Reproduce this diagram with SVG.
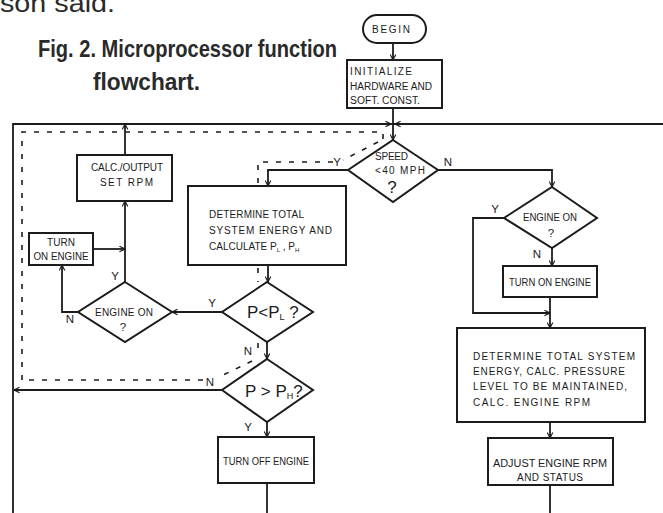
<svg xmlns="http://www.w3.org/2000/svg" width="663" height="513" viewBox="0 0 663 513">
  <style>
    .ln { fill: none; stroke: #1c1c1c; stroke-width: 1.8; }
    .bx { fill: #fff; stroke: #1c1c1c; stroke-width: 2; }
    .dash { fill: none; stroke: #1c1c1c; stroke-width: 1.6; stroke-dasharray: 5 8; }
    .hand { font-family: "Liberation Sans", "DejaVu Sans", sans-serif; font-size: 10px; fill: #1c1c1c; }
    .lab { font-family: "Liberation Sans", "DejaVu Sans", sans-serif; font-size: 11.5px; fill: #1c1c1c; }
    .big { font-family: "Liberation Sans", "DejaVu Sans", sans-serif; font-size: 17px; fill: #1c1c1c; }
    .title { font-family: "Liberation Sans", Arial, sans-serif; font-weight: bold; font-size: 24px; fill: #2a2a2a; }
    .c { text-anchor: middle; }
  </style>
  <defs>
    <marker id="arr" viewBox="0 0 10 10" refX="9" refY="5" markerWidth="7" markerHeight="7" orient="auto" markerUnits="userSpaceOnUse">
      <path d="M1,1 L9,5 L1,9" fill="none" stroke="#1c1c1c" stroke-width="1.6"/>
    </marker>
  </defs>
  <rect width="663" height="513" fill="#fff"/>

  <!-- running text and caption -->
  <text x="0" y="12" font-family="Liberation Sans, Arial, sans-serif" font-size="26" fill="#2a2a2a" textLength="115" lengthAdjust="spacingAndGlyphs">son said.</text>
  <text class="title" x="38" y="57" textLength="299" lengthAdjust="spacingAndGlyphs">Fig. 2. Microprocessor function</text>
  <text class="title" x="93" y="90" textLength="107" lengthAdjust="spacingAndGlyphs">flowchart.</text>

  <!-- connectors -->
  <g id="connectors">
    <path class="ln" d="M13,513 V124 H663"/>
    <path class="ln" d="M13,124 H391" marker-end="url(#arr)"/>
    <path class="ln" d="M663,124 H395" marker-end="url(#arr)"/>
    <path class="ln" d="M393,43 V60" marker-end="url(#arr)"/>
    <path class="ln" d="M393,108 V140" marker-end="url(#arr)"/>
    <path class="ln" d="M348,170 H268 V186" marker-end="url(#arr)"/>
    <path class="ln" d="M438,170 H552 V187" marker-end="url(#arr)"/>
    <path class="ln" d="M504,218 H473 V313 H550" marker-end="url(#arr)"/>
    <path class="ln" d="M552,248 V266" marker-end="url(#arr)"/>
    <path class="ln" d="M550,297 V328" marker-end="url(#arr)"/>
    <path class="ln" d="M550,422 V438" marker-end="url(#arr)"/>
    <path class="ln" d="M550,485 V513"/>
    <path class="ln" d="M268,265 V282" marker-end="url(#arr)"/>
    <path class="ln" d="M222,312 H172" marker-end="url(#arr)"/>
    <path class="ln" d="M125,282 V201" marker-end="url(#arr)"/>
    <path class="ln" d="M93,249 H125" marker-end="url(#arr)"/>
    <path class="ln" d="M78,312 H62 V265" marker-end="url(#arr)"/>
    <path class="ln" d="M125,155 V124" marker-end="url(#arr)"/>
    <path class="ln" d="M267,342 V359" marker-end="url(#arr)"/>
    <path class="ln" d="M222,390 H14" marker-end="url(#arr)"/>
    <path class="ln" d="M267,422 V437" marker-end="url(#arr)"/>
    <path class="ln" d="M267,483 V513"/>

    <!-- dashed trace of the low-speed loop -->
    <path class="dash" d="M22,380 V132 H383 V140"/>
    <path class="dash" d="M378,142 L343,160"/>
    <path class="dash" d="M333,162 H258 V184"/>
    <path class="dash" d="M258,268 V282"/>
    <path class="dash" d="M258,343 V356"/>
    <path class="dash" d="M252,361 L217,378"/>
    <path class="dash" d="M203,380 H22"/>

    <!-- branch labels -->
    <text class="lab c" x="337" y="166">Y</text>
    <text class="lab c" x="448" y="166">N</text>
    <text class="lab c" x="495" y="213">Y</text>
    <text class="lab c" x="537" y="258">N</text>
    <text class="lab c" x="212" y="307">Y</text>
    <text class="lab c" x="115" y="280">Y</text>
    <text class="lab c" x="70" y="323">N</text>
    <text class="lab c" x="248" y="355">N</text>
    <text class="lab c" x="210" y="386">N</text>
    <text class="lab c" x="248" y="431">Y</text>
  </g>

  <g id="begin">
    <rect class="bx" x="363" y="15" width="63" height="28" rx="14"/>
    <text class="hand" x="372" y="33" textLength="38">BEGIN</text>
  </g>

  <g id="initialize">
    <rect class="bx" x="347" y="60" width="95" height="48"/>
    <text class="hand" x="350" y="75" textLength="62">INITIALIZE</text>
    <text class="hand" x="350" y="90" textLength="82" lengthAdjust="spacingAndGlyphs">HARDWARE AND</text>
    <text class="hand" x="350" y="104" textLength="70" lengthAdjust="spacingAndGlyphs">SOFT. CONST.</text>
  </g>

  <g id="speed">
    <polygon class="bx" points="393,140 438,170 393,202 348,170"/>
    <text class="hand" x="375" y="160" textLength="33">SPEED</text>
    <text class="hand" x="375" y="174" textLength="50">&lt;40 MPH</text>
    <text class="big c" x="392" y="193">?</text>
  </g>

  <g id="engine-on-right">
    <polygon class="bx" points="552,187 597,218 552,248 504,218"/>
    <text class="hand c" x="550" y="221" textLength="54" lengthAdjust="spacingAndGlyphs">ENGINE ON</text>
    <text class="lab c" x="551" y="237">?</text>
  </g>

  <g id="turn-on-right">
    <rect class="bx" x="503" y="266" width="94" height="31"/>
    <text class="hand c" x="550" y="286" textLength="82" lengthAdjust="spacingAndGlyphs">TURN ON ENGINE</text>
  </g>

  <g id="determine-right">
    <rect class="bx" x="457" y="328" width="188" height="94"/>
    <text class="hand" x="473" y="360" textLength="162">DETERMINE TOTAL SYSTEM</text>
    <text class="hand" x="473" y="375" textLength="152">ENERGY, CALC. PRESSURE</text>
    <text class="hand" x="473" y="390" textLength="154">LEVEL TO BE MAINTAINED,</text>
    <text class="hand" x="473" y="406" textLength="117">CALC. ENGINE RPM</text>
  </g>

  <g id="adjust">
    <rect class="bx" x="488" y="438" width="125" height="47"/>
    <text class="hand c" x="550" y="467" textLength="114" lengthAdjust="spacingAndGlyphs">ADJUST ENGINE RPM</text>
    <text class="hand c" x="550" y="481" textLength="66">AND STATUS</text>
  </g>

  <g id="determine-left">
    <rect class="bx" x="188" y="186" width="158" height="79"/>
    <text class="hand" x="209" y="218" textLength="95">DETERMINE  TOTAL</text>
    <text class="hand" x="209" y="234" textLength="123">SYSTEM  ENERGY  AND</text>
    <text class="hand" x="209" y="250">CALCULATE   P<tspan font-size="6" dy="2">L</tspan><tspan dy="-2">  ,  P</tspan><tspan font-size="6" dy="2">H</tspan></text>
  </g>

  <g id="p-low">
    <polygon class="bx" points="267,282 313,312 267,342 222,312"/>
    <text class="big" x="247" y="318">P&lt;P<tspan font-size="9" dy="2">L</tspan><tspan dy="-2"> ?</tspan></text>
  </g>

  <g id="engine-on-left">
    <polygon class="bx" points="125,282 172,312 125,342 78,312"/>
    <text class="hand c" x="124" y="316" textLength="58">ENGINE ON</text>
    <text class="lab c" x="123" y="331">?</text>
  </g>

  <g id="turn-on-left">
    <rect class="bx" x="29" y="233" width="64" height="32"/>
    <text class="hand c" x="61" y="246">TURN</text>
    <text class="hand c" x="61" y="260" textLength="55" lengthAdjust="spacingAndGlyphs">ON ENGINE</text>
  </g>

  <g id="calc-output">
    <rect class="bx" x="77" y="155" width="95" height="46"/>
    <text class="hand" x="91" y="171" textLength="72">CALC./OUTPUT</text>
    <text class="hand" x="100" y="186" textLength="53">SET RPM</text>
  </g>

  <g id="p-high">
    <polygon class="bx" points="267,359 313,390 267,422 222,390"/>
    <text class="big" x="245" y="397">P &gt; P<tspan font-size="9" dy="2">H</tspan><tspan dy="-2">?</tspan></text>
  </g>

  <g id="turn-off">
    <rect class="bx" x="218" y="437" width="96" height="46"/>
    <text class="hand c" x="266" y="465" textLength="86" lengthAdjust="spacingAndGlyphs">TURN OFF ENGINE</text>
  </g>
</svg>
